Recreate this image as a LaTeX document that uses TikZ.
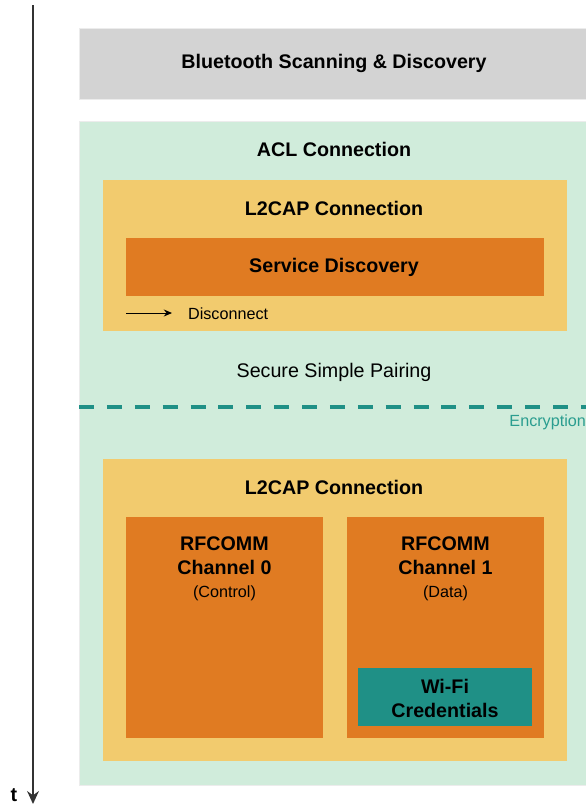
\documentclass[tikz,border=0pt]{standalone}
\usepackage{fontspec}
\setmainfont{Liberation Sans}
\usetikzlibrary{positioning}
\usetikzlibrary{arrows.meta}
\usepackage{xcolor}

\definecolor{scangray}{HTML}{D3D3D3}
\definecolor{aclgreen}{HTML}{D0ECDB}
\definecolor{ltwoyellow}{HTML}{F2CB6E}
\definecolor{rforange}{HTML}{E07B22}
\definecolor{wifiteal}{HTML}{1F9086}
\definecolor{enctext}{HTML}{2A9D8F}
\definecolor{axisgray}{HTML}{333333}

\tikzset{
  big/.style={font=\fontsize{16.8}{20.5}\selectfont\bfseries, align=center},
  plain/.style={font=\fontsize{16.8}{20.5}\selectfont},
  small/.style={font=\fontsize{13.8}{16}\selectfont},
}

\begin{document}
\begin{tikzpicture}[x=0.03cm, y=-0.03cm]
\useasboundingbox (0,0) rectangle (586,807);

% boxes
\fill[scangray, draw=gray!15, line width=0.6pt] (79,28) rectangle (590,99);
\fill[aclgreen, draw=gray!15, line width=0.6pt] (79,121) rectangle (590,785);

\fill[ltwoyellow] (103,180) rectangle (567,331);
\fill[rforange] (126,238) rectangle (544,296);

\fill[ltwoyellow] (103,459) rectangle (567,761);
\fill[rforange] (126,517) rectangle (323,738);
\fill[rforange] (347,517) rectangle (544,738);
\fill[wifiteal] (358,668) rectangle (532,726);

% time axis
\coordinate (tstart) at (33,5);
\coordinate (tend) at (33,804);
\draw[axisgray, line width=2pt, -{Stealth[length=11pt, width=10pt]}] (tstart) -- (tend);
\node[big] (tlabel) at (14,795) {t};

% labels
\node[big] (scan) at (334,63) {Bluetooth Scanning \& Discovery};
\node[big] (acl) at (334,149) {ACL Connection};
\node[big] (ltwoa) at (334,208) {L2CAP Connection};
\node[big] (sdp) at (334,267) {Service Discovery};

\coordinate (discstart) at (126,313);
\node[small, anchor=west] (disc) at (184,314) {Disconnect};
\draw[black, line width=0.8pt, -{Stealth[length=7pt, width=6pt]}] (discstart) -- ++(46,0);

\node[plain] (ssp) at (334,372) {Secure Simple Pairing};

% encryption
\coordinate (encl) at (79,407);
\coordinate (encr) at (590,407);
\draw[wifiteal, line width=3.4pt, dash pattern=on 12.8pt off 11pt] (encl) -- (encr);
\node[small, text=enctext, anchor=east] (enc) at (590,422) {Encryption};

\node[big] (ltwob) at (334,487) {L2CAP Connection};

\node[big, anchor=north] (rfa) at (224.5,533) {RFCOMM\\Channel 0};
\node[small] (rfanote) at (224.5,593) {(Control)};
\node[big, anchor=north] (rfb) at (445.5,533) {RFCOMM\\Channel 1};
\node[small] (rfbnote) at (445.5,593) {(Data)};

\node[big] (wifi) at (445,698) {Wi-Fi\\Credentials};

\end{tikzpicture}
\end{document}
